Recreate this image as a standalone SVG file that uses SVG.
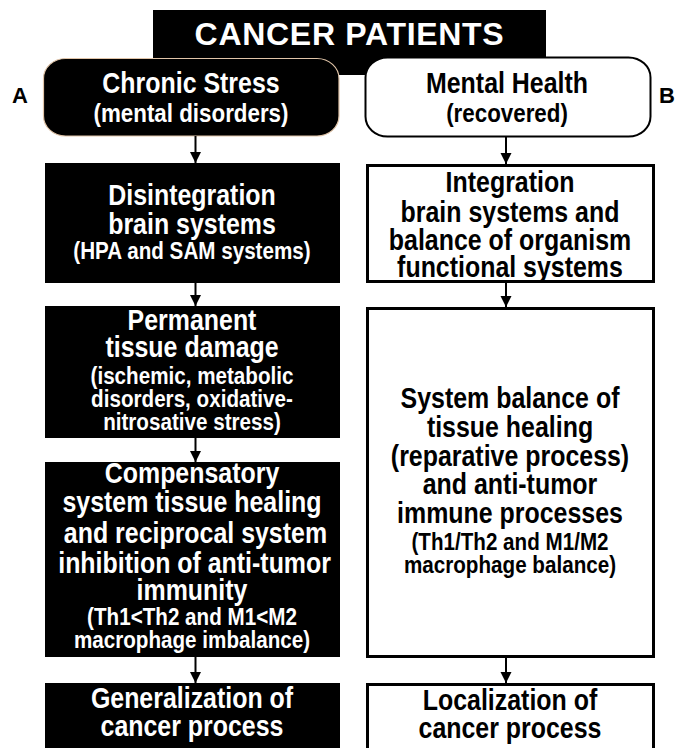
<svg xmlns="http://www.w3.org/2000/svg" width="676" height="748" viewBox="0 0 676 748">
<style>
  text { font-family: "Liberation Sans", Arial, sans-serif; font-weight: bold; text-anchor: middle; }
  .w { fill: #ffffff; }
  .k { fill: #000000; }
  .big { font-size: 29px; }
  .sm { font-size: 24px; }
  .top2 { font-size: 26px; }
  .dark { fill: #000000; }
  .light { fill: #ffffff; stroke: #000000; stroke-width: 3; }
  .conn line { stroke: #000000; stroke-width: 2; }
</style>
<defs>
  <marker id="ah" viewBox="0 0 10 10" refX="10" refY="5" markerWidth="5.5" markerHeight="6" markerUnits="strokeWidth" orient="auto">
    <path d="M0,0 L10,5 L0,10 Z" fill="#000000"/>
  </marker>
</defs>
<rect width="676" height="748" fill="#ffffff"/>

<g id="title">
  <rect x="153" y="10" width="393" height="65" fill="#000000"/>
  <text class="w" x="349.5" y="45" style="font-size:32px;letter-spacing:0.7px">CANCER PATIENTS</text>
</g>

<g id="labelA"><text class="k" x="20" y="103" style="font-size:22px">A</text></g>
<g id="labelB"><text class="k" x="667" y="103" style="font-size:22px">B</text></g>

<g id="chronic-stress">
  <rect x="43.5" y="58.5" width="295.5" height="77.5" rx="22" ry="20" fill="#000000" stroke="#e0c4a8" stroke-width="1.2"/>
  <g transform="translate(191 0) scale(0.86 1)">
    <text class="w big" x="0" y="93">Chronic Stress</text>
    <text class="w top2" x="0" y="122">(mental disorders)</text>
  </g>
</g>

<g id="mental-health">
  <rect x="365.5" y="57.5" width="285" height="79" rx="22" ry="20" fill="#ffffff" stroke="#000000" stroke-width="2"/>
  <g transform="translate(507 0) scale(0.86 1)">
    <text class="k big" x="0" y="93">Mental Health</text>
    <text class="k top2" x="0" y="122">(recovered)</text>
  </g>
</g>

<g id="disintegration">
  <rect class="dark" x="45" y="163" width="295" height="120"/>
  <g transform="translate(192 0) scale(0.86 1)">
    <text class="w big" x="0" y="205">Disintegration</text>
    <text class="w big" x="0" y="234">brain systems</text>
    <text class="w sm" x="0" y="259">(HPA and SAM systems)</text>
  </g>
</g>

<g id="integration">
  <rect class="light" x="367.5" y="165.5" width="286" height="116"/>
  <g transform="translate(510 0) scale(0.86 1)">
    <text class="k big" x="0" y="192">Integration</text>
    <text class="k big" x="0" y="222">brain systems and</text>
    <text class="k big" x="0" y="250">balance of organism</text>
    <text class="k big" x="0" y="277">functional systems</text>
  </g>
</g>

<g id="tissue-damage">
  <rect class="dark" x="45" y="306" width="295" height="132"/>
  <g transform="translate(192 0) scale(0.86 1)">
    <text class="w big" x="0" y="330">Permanent</text>
    <text class="w big" x="0" y="357">tissue damage</text>
    <text class="w sm" x="0" y="384">(ischemic, metabolic</text>
    <text class="w sm" x="0" y="407">disorders, oxidative-</text>
    <text class="w sm" x="0" y="430">nitrosative stress)</text>
  </g>
</g>

<g id="system-balance">
  <rect class="light" x="367.5" y="308.5" width="286" height="348"/>
  <g transform="translate(510 0) scale(0.86 1)">
    <text class="k big" x="0" y="408">System balance of</text>
    <text class="k big" x="0" y="437">tissue healing</text>
    <text class="k big" x="0" y="466">(reparative process)</text>
    <text class="k big" x="0" y="494">and anti-tumor</text>
    <text class="k big" x="0" y="523">immune processes</text>
    <text class="k sm" x="0" y="550">(Th1/Th2 and M1/M2</text>
    <text class="k sm" x="0" y="573">macrophage balance)</text>
  </g>
</g>

<g id="compensatory">
  <rect class="dark" x="45" y="462" width="295" height="195"/>
  <g transform="translate(192 0) scale(0.86 1)">
    <text class="w big" x="0" y="483">Compensatory</text>
    <text class="w big" x="0" y="512">system tissue healing</text>
    <text class="w big" x="4" y="543">and reciprocal system</text>
    <text class="w big" x="3" y="573">inhibition of anti-tumor</text>
    <text class="w big" x="0" y="600">immunity</text>
    <text class="w sm" x="0" y="625">(Th1&lt;Th2 and M1&lt;M2</text>
    <text class="w sm" x="0" y="648">macrophage imbalance)</text>
  </g>
</g>

<g id="generalization">
  <rect class="dark" x="45" y="683" width="295" height="70"/>
  <g transform="translate(192 0) scale(0.86 1)">
    <text class="w big" x="0" y="708">Generalization of</text>
    <text class="w big" x="0" y="736">cancer process</text>
  </g>
</g>

<g id="localization">
  <rect class="light" x="367.5" y="684.5" width="286" height="70"/>
  <g transform="translate(510 0) scale(0.86 1)">
    <text class="k big" x="0" y="710">Localization of</text>
    <text class="k big" x="0" y="738">cancer process</text>
  </g>
</g>

<g class="conn" id="connectors">
  <line x1="195.5" y1="136" x2="195.5" y2="163" marker-end="url(#ah)"/>
  <line x1="195.5" y1="283" x2="195.5" y2="306" marker-end="url(#ah)"/>
  <line x1="195.5" y1="438" x2="195.5" y2="462" marker-end="url(#ah)"/>
  <line x1="195.5" y1="657" x2="195.5" y2="683" marker-end="url(#ah)"/>
  <line x1="506" y1="137" x2="506" y2="164" marker-end="url(#ah)"/>
  <line x1="506" y1="283" x2="506" y2="307" marker-end="url(#ah)"/>
  <line x1="506" y1="658" x2="506" y2="683" marker-end="url(#ah)"/>
</g>
</svg>
